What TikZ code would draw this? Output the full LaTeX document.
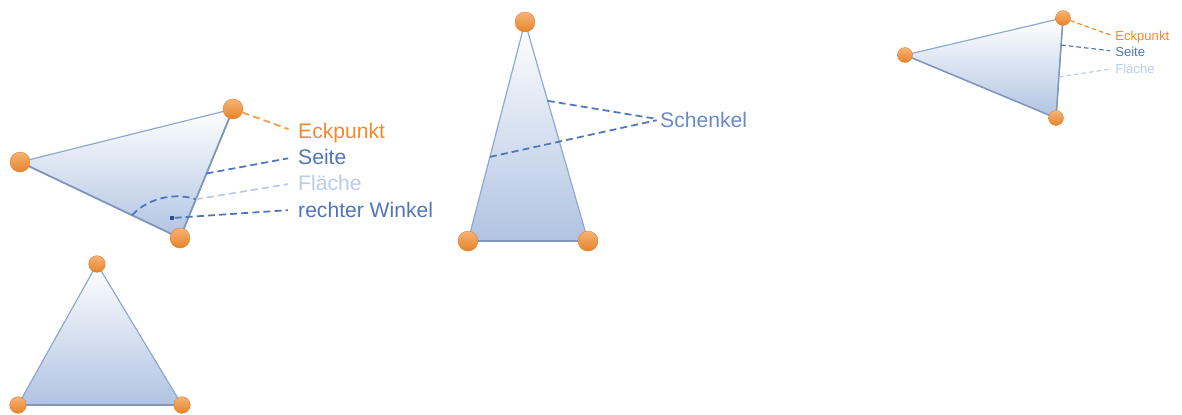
\documentclass[tikz,border=0pt]{standalone}
\usepackage{fontspec}
\setmainfont{Liberation Sans}
\usetikzlibrary{calc}

\definecolor{eckorange}{HTML}{F28A2C}
\definecolor{seiteblau}{HTML}{4F76B8}
\definecolor{flaecheblau}{HTML}{B9CBE8}
\definecolor{kanteblau}{HTML}{8EA7CF}
\definecolor{innenblau}{HTML}{B0C3E2}
\definecolor{punktblau}{HTML}{2E4E8C}

\tikzset{
    flaeche/.style={top color=white, bottom color=innenblau, draw=kanteblau, line width=1pt, line join=round},
    kante/.style={draw=kanteblau!90!black, line width=1.5pt, line cap=round},
    ecke/.style={circle, inner sep=0pt, minimum size=#1, top color=eckorange!65!white, bottom color=eckorange!95!black, draw=eckorange!90!black, line width=0.3pt},
    leitung/.style={dash pattern=on 6pt off 3.5pt, line width=1.5pt},
    kleinleitung/.style={dash pattern=on 4pt off 2.5pt, line width=1pt},
    gross/.style={anchor=base west, inner sep=0pt, font=\fontsize{18}{21}\selectfont},
    klein/.style={anchor=base west, inner sep=0pt, font=\fontsize{11.2}{13}\selectfont},
    punkt/.style={rectangle, inner sep=0pt, minimum size=4pt, fill=punktblau}
}

\begin{document}
\begin{tikzpicture}[x=0.03cm, y=-0.03cm]
    \useasboundingbox (0,0) rectangle (1182,414);

    % rechtwinkliges Dreieck
    \coordinate (t1a) at (20,162);
    \coordinate (t1b) at (233,109);
    \coordinate (t1c) at (180,238);
    \path[flaeche] (t1a) -- (t1b) -- (t1c) -- cycle;
    \draw[kante] (t1a) -- (t1c) -- (t1b);
    \coordinate (t1w1) at ($(t1c)!0.3!(t1a)$);
    \coordinate (t1w2) at ($(t1c)!0.3!(t1b)$);
    \coordinate (t1s) at ($(t1c)!0.5!(t1b)$);
    \node[punkt] (t1rw) at (172,218) {};
    \node[ecke=0.6cm] (t1ka) at (t1a) {};
    \node[ecke=0.6cm] (t1kb) at (t1b) {};
    \node[ecke=0.6cm] (t1kc) at (t1c) {};
    \node[gross, eckorange] (t1eck) at (298,138) {Eckpunkt};
    \node[gross, seiteblau] (t1seite) at (298,164) {Seite};
    \node[gross, flaecheblau] (t1flaeche) at (298,190) {Fläche};
    \node[gross, seiteblau] (t1winkel) at (298,217) {rechter Winkel};
    \draw[leitung, seiteblau] (t1w1) .. controls (150,196) and (178,193) .. (t1w2);
    \draw[leitung, eckorange!85!white, shorten >=0.3cm] (t1kb) -- (t1eck.west);
    \draw[leitung, seiteblau, shorten >=0.3cm] (t1s) -- (t1seite.west);
    \draw[leitung, flaecheblau, shorten >=0.3cm] (t1w2) -- (t1flaeche.west);
    \draw[leitung, seiteblau, shorten >=0.3cm] (t1rw) -- (t1winkel.west);

    % gleichschenkliges Dreieck
    \coordinate (t2a) at (525,22);
    \coordinate (t2l) at (468,241);
    \coordinate (t2r) at (588,241);
    \path[flaeche] (t2a) -- (t2l) -- (t2r) -- cycle;
    \draw[kante, line width=2.2pt] (t2l) -- (t2r);
    \coordinate (t2s1) at ($(t2a)!0.36!(t2r)$);
    \coordinate (t2s2) at ($(t2a)!0.616!(t2l)$);
    \node[ecke=0.6cm] (t2ka) at (t2a) {};
    \node[ecke=0.6cm] (t2kl) at (t2l) {};
    \node[ecke=0.6cm] (t2kr) at (t2r) {};
    \node[gross, seiteblau!85!white] (t2schenkel) at (660,127) {Schenkel};
    \draw[leitung, seiteblau, shorten >=0.1cm] (t2s1) -- (t2schenkel.west);
    \draw[leitung, seiteblau, shorten >=0.1cm] (t2s2) -- (t2schenkel.west);

    % kleines Dreieck
    \coordinate (t3a) at (905,55);
    \coordinate (t3b) at (1063,18);
    \coordinate (t3c) at (1056,118);
    \path[flaeche] (t3a) -- (t3b) -- (t3c) -- cycle;
    \draw[kante, line width=1.2pt] (t3a) -- (t3c) -- (t3b);
    \coordinate (t3s) at ($(t3b)!0.27!(t3c)$);
    \coordinate (t3f) at ($(t3b)!0.59!(t3c)$);
    \node[ecke=0.45cm] (t3ka) at (t3a) {};
    \node[ecke=0.45cm] (t3kb) at (t3b) {};
    \node[ecke=0.45cm] (t3kc) at (t3c) {};
    \node[klein, eckorange] (t3eck) at (1115,40) {Eckpunkt};
    \node[klein, seiteblau] (t3seite) at (1115,56) {Seite};
    \node[klein, flaecheblau] (t3flaeche) at (1115,73) {Fläche};
    \draw[kleinleitung, eckorange, shorten >=0.15cm] (t3kb) -- (t3eck.west);
    \draw[kleinleitung, seiteblau, shorten >=0.15cm] (t3s) -- (t3seite.west);
    \draw[kleinleitung, flaecheblau, shorten >=0.15cm] (t3f) -- (t3flaeche.west);

    % gleichseitiges Dreieck
    \coordinate (t4a) at (97,264);
    \coordinate (t4l) at (18,405);
    \coordinate (t4r) at (182,405);
    \path[flaeche] (t4a) -- (t4l) -- (t4r) -- cycle;
    \draw[kante, line width=1.8pt] (t4l) -- (t4r);
    \node[ecke=0.5cm] (t4ka) at (t4a) {};
    \node[ecke=0.5cm] (t4kl) at (t4l) {};
    \node[ecke=0.5cm] (t4kr) at (t4r) {};
\end{tikzpicture}
\end{document}
